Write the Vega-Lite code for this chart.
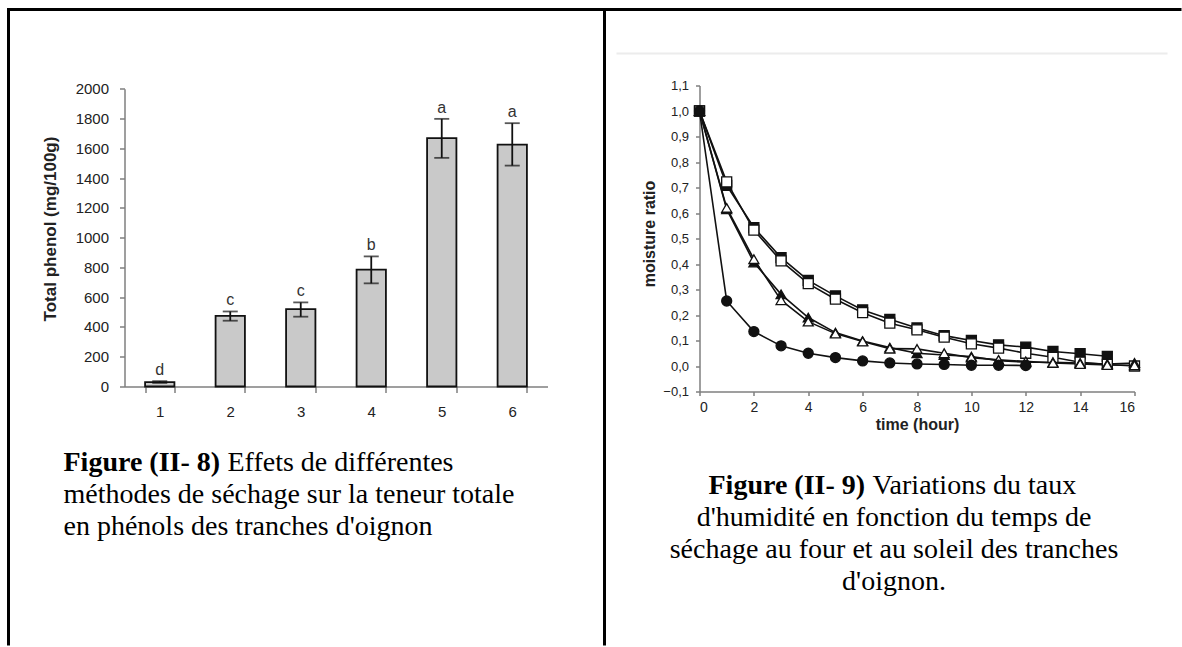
{
  "$schema": "https://vega.github.io/schema/vega-lite/v6.json",
  "padding": {"left": 5.5, "top": 7.5, "right": 0, "bottom": 0},
  "bounds": "flush",
  "spacing": 152,
  "background": "white",
  "config": {
    "view": {"stroke": null},
    "axis": {
      "grid": false,
      "labelOverlap": false,
      "domainColor": "#7f7f7f",
      "tickColor": "#7f7f7f",
      "domainWidth": 1.5,
      "tickWidth": 1.5,
      "labelFont": "Liberation Sans",
      "labelColor": "#222222",
      "titleFont": "Liberation Sans",
      "titleColor": "#222222",
      "titleFontWeight": "bold"
    }
  },
  "datasets": {
    "phenol": [
      {"method": "1", "phenol": 30, "low": 24, "high": 36, "letter": "d"},
      {"method": "2", "phenol": 475, "low": 442, "high": 504, "letter": "c"},
      {"method": "3", "phenol": 520, "low": 469, "high": 565, "letter": "c"},
      {"method": "4", "phenol": 785, "low": 693, "high": 874, "letter": "b"},
      {"method": "5", "phenol": 1668, "low": 1536, "high": 1798, "letter": "a"},
      {"method": "6", "phenol": 1625, "low": 1484, "high": 1769, "letter": "a"}
    ],
    "moisture": [
      {"series": "A", "h": 0, "mr": 1.0}, {"series": "A", "h": 1, "mr": 0.708}, {"series": "A", "h": 2, "mr": 0.543},
      {"series": "A", "h": 3, "mr": 0.425}, {"series": "A", "h": 4, "mr": 0.336}, {"series": "A", "h": 5, "mr": 0.275},
      {"series": "A", "h": 6, "mr": 0.22}, {"series": "A", "h": 7, "mr": 0.183}, {"series": "A", "h": 8, "mr": 0.149},
      {"series": "A", "h": 9, "mr": 0.119}, {"series": "A", "h": 10, "mr": 0.1}, {"series": "A", "h": 11, "mr": 0.083},
      {"series": "A", "h": 12, "mr": 0.074}, {"series": "A", "h": 13, "mr": 0.057}, {"series": "A", "h": 14, "mr": 0.048},
      {"series": "A", "h": 15, "mr": 0.038},
      {"series": "B", "h": 0, "mr": 1.0}, {"series": "B", "h": 1, "mr": 0.722}, {"series": "B", "h": 2, "mr": 0.533},
      {"series": "B", "h": 3, "mr": 0.412}, {"series": "B", "h": 4, "mr": 0.323}, {"series": "B", "h": 5, "mr": 0.262},
      {"series": "B", "h": 6, "mr": 0.209}, {"series": "B", "h": 7, "mr": 0.168}, {"series": "B", "h": 8, "mr": 0.142},
      {"series": "B", "h": 9, "mr": 0.113}, {"series": "B", "h": 10, "mr": 0.087}, {"series": "B", "h": 11, "mr": 0.07},
      {"series": "B", "h": 12, "mr": 0.05}, {"series": "B", "h": 13, "mr": 0.034}, {"series": "B", "h": 14, "mr": 0.015},
      {"series": "B", "h": 15, "mr": 0.006}, {"series": "B", "h": 16, "mr": 0.0},
      {"series": "C", "h": 0, "mr": 1.0}, {"series": "C", "h": 1, "mr": 0.615}, {"series": "C", "h": 2, "mr": 0.406},
      {"series": "C", "h": 3, "mr": 0.281}, {"series": "C", "h": 4, "mr": 0.19}, {"series": "C", "h": 5, "mr": 0.131},
      {"series": "C", "h": 6, "mr": 0.098}, {"series": "C", "h": 7, "mr": 0.072}, {"series": "C", "h": 8, "mr": 0.05},
      {"series": "C", "h": 9, "mr": 0.043}, {"series": "C", "h": 10, "mr": 0.037}, {"series": "C", "h": 11, "mr": 0.021},
      {"series": "C", "h": 12, "mr": 0.015}, {"series": "C", "h": 13, "mr": 0.015}, {"series": "C", "h": 14, "mr": 0.012},
      {"series": "C", "h": 15, "mr": 0.008}, {"series": "C", "h": 16, "mr": 0.012},
      {"series": "D", "h": 0, "mr": 1.0}, {"series": "D", "h": 1, "mr": 0.62}, {"series": "D", "h": 2, "mr": 0.419},
      {"series": "D", "h": 3, "mr": 0.258}, {"series": "D", "h": 4, "mr": 0.174}, {"series": "D", "h": 5, "mr": 0.127},
      {"series": "D", "h": 6, "mr": 0.096}, {"series": "D", "h": 7, "mr": 0.068}, {"series": "D", "h": 8, "mr": 0.067},
      {"series": "D", "h": 9, "mr": 0.05}, {"series": "D", "h": 10, "mr": 0.033}, {"series": "D", "h": 11, "mr": 0.024},
      {"series": "D", "h": 12, "mr": 0.018}, {"series": "D", "h": 13, "mr": 0.012}, {"series": "D", "h": 14, "mr": 0.008},
      {"series": "D", "h": 15, "mr": 0.004}, {"series": "D", "h": 16, "mr": 0.003},
      {"series": "E", "h": 0, "mr": 1.0}, {"series": "E", "h": 1, "mr": 0.255}, {"series": "E", "h": 2, "mr": 0.135},
      {"series": "E", "h": 3, "mr": 0.079}, {"series": "E", "h": 4, "mr": 0.05}, {"series": "E", "h": 5, "mr": 0.033},
      {"series": "E", "h": 6, "mr": 0.02}, {"series": "E", "h": 7, "mr": 0.012}, {"series": "E", "h": 8, "mr": 0.008},
      {"series": "E", "h": 9, "mr": 0.006}, {"series": "E", "h": 10, "mr": 0.003}, {"series": "E", "h": 11, "mr": 0.003},
      {"series": "E", "h": 12, "mr": 0.002}
    ]
  },
  "hconcat": [
    {
      "width": 423,
      "height": 301,
      "layer": [
        {
          "data": {"values": [{}]},
          "mark": {"type": "rule", "color": "#000000", "strokeWidth": 3},
          "encoding": {"x": {"value": -117.5}, "x2": {"value": 1057}, "y": {"value": -76}}
        },
        {
          "data": {"values": [{}]},
          "mark": {"type": "rule", "color": "#000000", "strokeWidth": 3},
          "encoding": {"x": {"value": -116}, "y": {"value": -76}, "y2": {"value": 560}}
        },
        {
          "data": {"values": [{}]},
          "mark": {"type": "rule", "color": "#000000", "strokeWidth": 3},
          "encoding": {"x": {"value": 480}, "y": {"value": -76}, "y2": {"value": 560}}
        },
        {
          "data": {"name": "phenol"},
          "mark": {"type": "bar", "fill": "#c9c9c9", "stroke": "#111111", "strokeWidth": 1.8},
          "encoding": {
            "x": {
              "field": "method", "type": "ordinal",
              "scale": {"paddingInner": 0.584, "paddingOuter": 0.292},
              "axis": {"title": null, "labelAngle": 0, "tickBand": "extent", "tickSize": 6, "labelPadding": 12, "labelFontSize": 15}
            },
            "y": {
              "field": "phenol", "type": "quantitative",
              "scale": {"domain": [0, 2000], "nice": false, "range": [301, 3.3]},
              "axis": {
                "values": [0, 200, 400, 600, 800, 1000, 1200, 1400, 1600, 1800, 2000],
                "tickCount": 30,
                "format": "d", "tickSize": 5, "labelPadding": 11, "labelFontSize": 15,
                "title": "Total phenol (mg/100g)", "titleFontSize": 17,
                "titleX": -74, "titleY": 143, "titleBaseline": "middle"
              }
            }
          }
        },
        {
          "data": {"name": "phenol"},
          "mark": {"type": "rule", "color": "#111111", "strokeWidth": 1.8},
          "encoding": {
            "x": {"field": "method", "type": "ordinal"},
            "y": {"field": "low", "type": "quantitative"},
            "y2": {"field": "high"}
          }
        },
        {
          "data": {"name": "phenol"},
          "mark": {"type": "tick", "orient": "horizontal", "color": "#111111", "size": 15, "thickness": 1.8},
          "encoding": {
            "x": {"field": "method", "type": "ordinal"},
            "y": {"field": "low", "type": "quantitative"}
          }
        },
        {
          "data": {"name": "phenol"},
          "mark": {"type": "tick", "orient": "horizontal", "color": "#111111", "size": 15, "thickness": 1.8},
          "encoding": {
            "x": {"field": "method", "type": "ordinal"},
            "y": {"field": "high", "type": "quantitative"}
          }
        },
        {
          "data": {"name": "phenol"},
          "mark": {"type": "text", "font": "Liberation Sans", "fontSize": 16, "color": "#333333", "baseline": "alphabetic", "dy": -6},
          "encoding": {
            "x": {"field": "method", "type": "ordinal"},
            "y": {"field": "high", "type": "quantitative"},
            "text": {"field": "letter"}
          }
        },
        {
          "data": {"values": [{}]},
          "mark": {"type": "text", "font": "Liberation Serif", "fontSize": 28, "fontWeight": "bold", "align": "left", "baseline": "middle", "text": "Figure (II- 8)", "color": "#000000"},
          "encoding": {"x": {"value": -61}, "y": {"value": 377}}
        },
        {
          "data": {"values": [{}]},
          "mark": {"type": "text", "font": "Liberation Serif", "fontSize": 28, "align": "left", "baseline": "middle", "text": "Effets de différentes", "color": "#000000"},
          "encoding": {"x": {"value": 103}, "y": {"value": 377}}
        },
        {
          "data": {"values": [{}]},
          "mark": {"type": "text", "font": "Liberation Serif", "fontSize": 28, "align": "left", "baseline": "middle", "text": "méthodes de séchage sur la teneur totale", "color": "#000000"},
          "encoding": {"x": {"value": -61}, "y": {"value": 409}}
        },
        {
          "data": {"values": [{}]},
          "mark": {"type": "text", "font": "Liberation Serif", "fontSize": 28, "align": "left", "baseline": "middle", "text": "en phénols des tranches d'oignon", "color": "#000000"},
          "encoding": {"x": {"value": -61}, "y": {"value": 441}}
        }
      ]
    },
    {
      "width": 435,
      "height": 306,
      "layer": [
        {
          "data": {"values": [{}]},
          "mark": {"type": "rule", "color": "#ececec", "strokeWidth": 2},
          "encoding": {"x": {"value": -83}, "x2": {"value": 468}, "y": {"value": -32}}
        },
        {
          "data": {"name": "moisture"},
          "mark": {"type": "line", "color": "#111111", "strokeWidth": 1.6},
          "encoding": {
            "x": {
              "field": "h", "type": "quantitative",
              "scale": {"domain": [0, 16], "nice": false},
              "axis": {
                "values": [0, 2, 4, 6, 8, 10, 12, 14, 16], "tickCount": 30, "format": "d",
                "tickSize": 4, "labelPadding": 5, "labelFontSize": 14,
                "title": "time (hour)", "titleFontSize": 16, "titleY": 33, "titleBaseline": "middle"
              }
            },
            "y": {
              "field": "mr", "type": "quantitative",
              "scale": {"domain": [-0.1, 1.1], "nice": false, "zero": false},
              "axis": {
                "values": [-0.1, 0, 0.1, 0.2, 0.3, 0.4, 0.5, 0.6, 0.7, 0.8, 0.9, 1.0, 1.1],
                "tickCount": 30,
                "labelExpr": "replace(format(datum.value, '.1f'), '.', ',')",
                "tickSize": 4, "labelPadding": 7, "labelFontSize": 13,
                "title": "moisture  ratio", "titleFontSize": 16,
                "titleX": -50, "titleY": 148, "titleBaseline": "middle"
              }
            },
            "detail": {"field": "series", "type": "nominal"}
          }
        },
        {
          "data": {"name": "moisture"},
          "mark": {"type": "point", "filled": true, "stroke": "#111111", "strokeWidth": 1.3, "opacity": 1},
          "encoding": {
            "x": {"field": "h", "type": "quantitative"},
            "y": {"field": "mr", "type": "quantitative"},
            "shape": {
              "field": "series", "type": "nominal", "legend": null,
              "scale": {"domain": ["A", "B", "C", "D", "E"], "range": ["square", "square", "triangle-up", "triangle-up", "circle"]}
            },
            "fill": {
              "field": "series", "type": "nominal", "legend": null,
              "scale": {"domain": ["A", "B", "C", "D", "E"], "range": ["#111111", "#ffffff", "#111111", "#ffffff", "#111111"]}
            },
            "size": {
              "field": "series", "type": "nominal", "legend": null,
              "scale": {"domain": ["A", "B", "C", "D", "E"], "range": [100, 100, 115, 115, 135]}
            }
          }
        },
        {
          "data": {"values": [{}]},
          "mark": {"type": "text", "font": "Liberation Serif", "fontSize": 28, "fontWeight": "bold", "align": "left", "baseline": "middle", "text": "Figure (II- 9)", "color": "#000000"},
          "encoding": {"x": {"value": 9}, "y": {"value": 400}}
        },
        {
          "data": {"values": [{}]},
          "mark": {"type": "text", "font": "Liberation Serif", "fontSize": 28, "align": "left", "baseline": "middle", "text": "Variations du taux", "color": "#000000"},
          "encoding": {"x": {"value": 173}, "y": {"value": 400}}
        },
        {
          "data": {"values": [{}]},
          "mark": {"type": "text", "font": "Liberation Serif", "fontSize": 28, "align": "center", "baseline": "middle", "text": "d'humidité en fonction du temps de", "color": "#000000"},
          "encoding": {"x": {"value": 194.5}, "y": {"value": 432}}
        },
        {
          "data": {"values": [{}]},
          "mark": {"type": "text", "font": "Liberation Serif", "fontSize": 28, "align": "center", "baseline": "middle", "text": "séchage au four et au soleil des tranches", "color": "#000000"},
          "encoding": {"x": {"value": 194.5}, "y": {"value": 464}}
        },
        {
          "data": {"values": [{}]},
          "mark": {"type": "text", "font": "Liberation Serif", "fontSize": 28, "align": "center", "baseline": "middle", "text": "d'oignon.", "color": "#000000"},
          "encoding": {"x": {"value": 194.5}, "y": {"value": 496}}
        }
      ],
      "resolve": {"scale": {"shape": "independent"}}
    }
  ]
}
